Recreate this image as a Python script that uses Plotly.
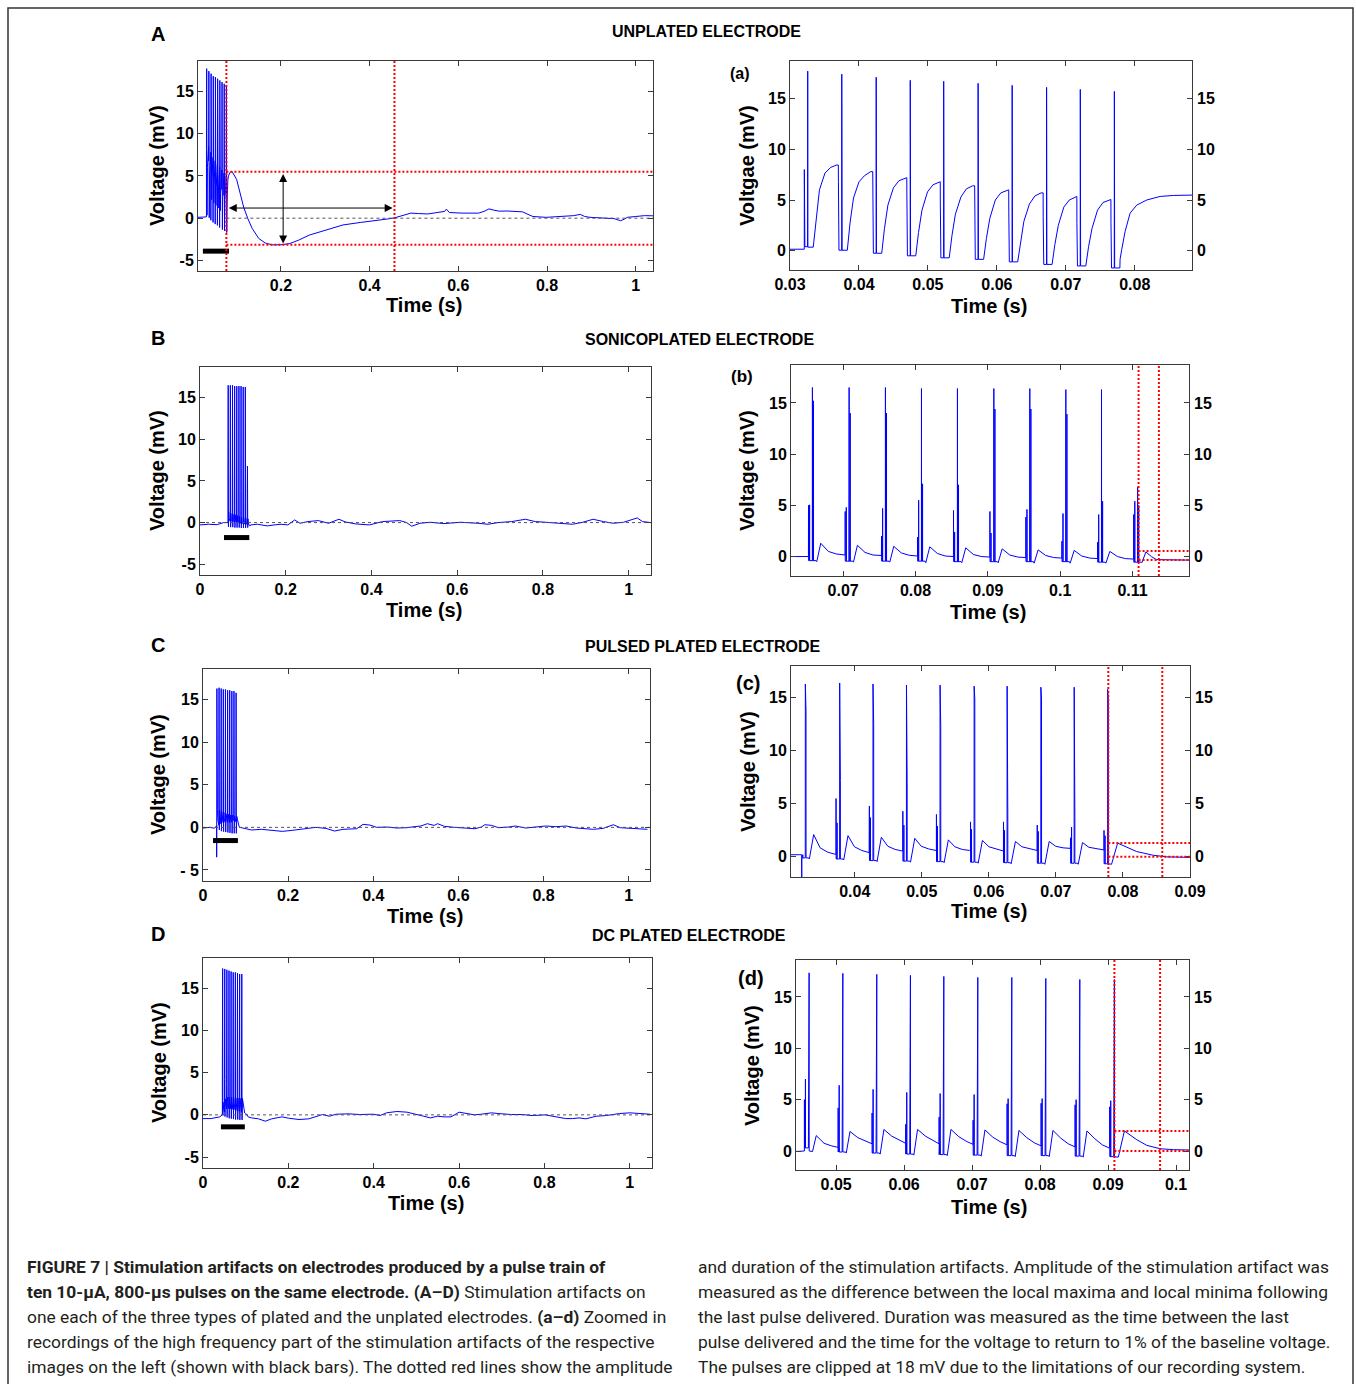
import plotly.graph_objects as go

W, H = 1356, 1384

# ================= DATA =================
# ---- Unplated electrode (A / a) ----
un_pre_t = [0.013, 0.022, 0.029, 0.0318]
un_pre_v = [0.1, 0.12, 0.15, 0.15]
un_T = [0.03257, 0.03751, 0.0425, 0.04744, 0.05229, 0.05728, 0.06222, 0.06721, 0.0721, 0.07704]
un_peak = [17.7, 17.4, 17.1, 16.8, 16.7, 16.5, 16.3, 16.1, 15.9, 15.7]
un_inner = [13.6, 12.6, 12.1, 11.6, 11.3, 11.1, 10.8, 10.6, 10.4, 10.1]
un_pre1 = [8.0, 6.8, 6.1, 5.5, 4.7, 4.9, 3.9, 3.4, 2.7, 2.8]
un_pre2 = [7.5, 5.6, 4.7, 4.2, 3.8, 3.4, 3.0, 2.6, 2.2, 2.0]
un_base = [0.4, 0.05, -0.25, -0.5, -0.7, -0.85, -1.1, -1.35, -1.5, -1.7]
un_trough = [0.35, 0.05, -0.25, -0.5, -0.7, -0.85, -1.1, -1.35, -1.5, -1.7]
un_r1 = [3.1, 2.75, 2.2, 1.8, 1.5, 1.2, 0.9, 0.6, 0.4]
un_r2 = [6.0, 5.2, 4.5, 4.0, 3.6, 3.2, 2.9, 2.5, 2.2]
un_r3 = [7.65, 6.8, 6.2, 5.8, 5.3, 5.0, 4.6, 4.3, 4.0]
un_r4 = [8.2, 7.4, 6.9, 6.5, 6.1, 5.7, 5.4, 5.0, 4.75]
un_plat = [8.45, 7.8, 7.2, 6.8, 6.4, 6.0, 5.7, 5.35, 5.05]
un_tail_t = [0.07787, 0.07811, 0.0786, 0.07932, 0.08029, 0.08174, 0.08368, 0.08562, 0.08829]
un_tail_v = [-0.85, 0.13, 1.9, 3.7, 4.5, 5.0, 5.35, 5.45, 5.5]
un_slow_t = [0.09, 0.1, 0.108, 0.116, 0.125, 0.135, 0.15, 0.165, 0.18, 0.2, 0.22, 0.24, 0.264, 0.3, 0.34,
             0.38, 0.417, 0.44, 0.457, 0.47, 0.493, 0.51, 0.531, 0.55, 0.569, 0.573, 0.58, 0.608, 0.63, 0.646,
             0.66, 0.669, 0.68, 0.692, 0.71, 0.722, 0.745, 0.755, 0.768, 0.798, 0.82, 0.836, 0.86, 0.875, 0.885,
             0.897, 0.93, 0.951, 0.96, 0.966, 0.975, 0.981, 1.0, 1.02, 1.039]
un_slow_v = [5.5, 4.6, 3.0, 1.3, 0.0, -1.2, -2.4, -2.95, -3.15, -3.15, -3.0, -2.6, -2.0, -1.4, -0.8,
             -0.5, -0.3, -0.1, 0.05, 0.25, 0.6, 0.55, 0.5, 0.65, 0.8, 1.07, 0.67, 0.6, 0.6, 0.6,
             0.85, 1.1, 0.95, 0.83, 0.85, 0.8, 0.75, 0.5, 0.2, 0.1, 0.15, 0.2, 0.3, 0.45, 0.2,
             0.1, 0.05, -0.05, -0.2, -0.3, -0.1, 0.1, 0.2, 0.3, 0.28]
un_red_t = [0.0770, 0.456]
un_red_v = [5.5, -3.15]
un_bar_t = [0.024, 0.083]
un_bar_v = -3.9
un_arrow_h_t = [0.079, 0.452]
un_arrow_h_v = 1.2
un_arrow_v_t = 0.205
un_arrow_v_v = [5.4, -3.0]

# ---- Sonicoplated electrode (B / b) ----
son_pre_t = [0.0, 0.02, 0.04, 0.055, 0.0628, 0.0650]
son_pre_v = [-0.28, -0.2, -0.25, 0.0, 0.0, 0.0]
son_T = [0.06576, 0.07083, 0.07585, 0.08083, 0.0858, 0.09083, 0.0958, 0.10078, 0.10571, 0.1107]
son_peak = [16.5, 16.5, 16.5, 16.4, 16.4, 16.4, 16.4, 16.3, 16.3, 6.8]
son_inner = [15.2, 14.0, 14.0, 7.1, 7.0, 14.4, 14.4, 13.9, 5.4, 5.0]
son_pre1 = [5.0, 4.4, 2.0, 1.9, 4.5, 4.4, 3.85, 1.5, 1.4, 4.1]
son_pre2 = [5.05, 4.8, 4.7, 5.5, 2.4, 2.3, 4.6, 4.2, 4.1, 5.4]
son_trough = [-0.4, -0.45, -0.45, -0.45, -0.5, -0.5, -0.5, -0.5, -0.55, -0.55]
son_dip = [-0.5, -0.55, -0.55, -0.6, -0.6, -0.6, -0.65, -0.65, -0.65]
son_bump = [1.3, 1.1, 1.0, 0.95, 0.85, 0.75, 0.65, 0.6, 0.5]
son_d1 = [0.5, 0.4, 0.35, 0.3, 0.2, 0.15, 0.1, 0.05, 0.0]
son_d2 = [0.25, 0.15, 0.12, 0.05, 0.0, -0.05, -0.1, -0.15, -0.2]
son_end = [0.15, 0.1, 0.05, 0.0, -0.05, -0.1, -0.15, -0.2, -0.25]
son_tail_t = [0.1113, 0.11184, 0.1126, 0.1133, 0.1145, 0.1178]
son_tail_v = [-0.6, 0.45, 0.0, -0.3, -0.33, -0.35]
son_slow_t = [0.118, 0.134, 0.157, 0.173, 0.189, 0.205, 0.221, 0.233, 0.252, 0.276,
              0.3, 0.324, 0.339, 0.363, 0.395, 0.426, 0.466, 0.482, 0.494, 0.513,
              0.537, 0.569, 0.608, 0.648, 0.672, 0.695, 0.727, 0.759, 0.782, 0.806,
              0.846, 0.869, 0.893, 0.917, 0.941, 0.964, 0.988, 1.02, 1.032, 1.051]
son_slow_v = [-0.28, -0.2, -0.4, -0.28, -0.2, -0.28, 0.32, -0.08, 0.12, 0.24,
              -0.08, 0.4, 0.08, -0.16, -0.28, 0.12, 0.24, 0.0, -0.44, -0.08,
              0.04, -0.12, 0.04, -0.08, -0.2, 0.0, 0.12, 0.4, 0.12, 0.04,
              -0.08, -0.2, 0.04, 0.4, 0.12, -0.08, 0.04, 0.56, 0.12, 0.0]
son_red_t = [0.11083, 0.11364]
son_red_v = [0.55, -0.33]
son_bar_t = [0.056, 0.115]
son_bar_v = -1.8

# ---- Pulsed plated electrode (C / c) ----
pul_pre_t = [0.0, 0.015, 0.027, 0.0305, 0.0318]
pul_pre_v = [-0.08, 0.0, -0.1, 0.2, 0.2]
pul_T = [0.03264, 0.03776, 0.04273, 0.04772, 0.05273, 0.05781, 0.06273, 0.06776, 0.07273, 0.07772]
pul_peak = [16.3, 16.4, 16.3, 16.2, 16.2, 16.1, 16.1, 16.0, 16.0, 15.8]
pul_inner = [13.7, 7.2, 12.5, 7.0, 12.2, 14.9, 4.1, 14.9, 3.8, 14.8]
pul_pre1 = [-3.5, 5.5, 4.8, 4.3, 4.0, 3.3, 3.3, 3.0, 1.8, 2.5]
pul_pre2 = [0.2, 3.2, 3.7, 3.0, 2.9, 2.6, 2.5, 2.4, 2.8, 2.0]
pul_trough = [-0.1, -0.2, -0.35, -0.4, -0.45, -0.5, -0.55, -0.6, -0.6, -0.65]
pul_dip = [-0.2, -0.3, -0.45, -0.5, -0.55, -0.6, -0.65, -0.7, -0.7]
pul_bump = [2.1, 2.0, 1.85, 1.75, 1.6, 1.55, 1.45, 1.45, 1.35]
pul_d1 = [0.85, 0.95, 1.0, 1.0, 0.95, 0.95, 0.95, 1.0, 0.9]
pul_d2 = [0.45, 0.6, 0.7, 0.75, 0.7, 0.75, 0.8, 0.85, 0.75]
pul_end = [0.25, 0.4, 0.55, 0.6, 0.6, 0.55, 0.6, 0.8, 0.65]
pul_tail_t = [0.0783, 0.07921, 0.0805, 0.08204, 0.08452, 0.08652, 0.09]
pul_tail_v = [-0.7, 1.3, 0.9, 0.5, 0.15, 0.0, -0.05]
pul_slow_t = [0.0985, 0.114, 0.138, 0.17, 0.186, 0.21, 0.234, 0.249, 0.265, 0.289,
              0.309, 0.329, 0.361, 0.376, 0.392, 0.408, 0.432, 0.456, 0.48, 0.496,
              0.512, 0.527, 0.543, 0.551, 0.567, 0.591, 0.615, 0.639, 0.654, 0.662,
              0.678, 0.694, 0.718, 0.734, 0.758, 0.782, 0.805, 0.829, 0.853, 0.877,
              0.901, 0.917, 0.94, 0.964, 0.98, 1.004, 1.028, 1.044]
pul_slow_v = [-0.12, -0.31, -0.23, -0.43, -0.47, -0.35, -0.16, -0.08, 0.0, -0.12,
              -0.43, -0.23, -0.16, 0.35, 0.27, 0.0, 0.04, -0.08, -0.04, 0.08,
              0.16, 0.43, 0.23, 0.43, 0.12, 0.0, -0.08, -0.16, 0.04, 0.31,
              0.23, -0.04, 0.04, 0.16, -0.08, 0.08, 0.16, 0.08, 0.16, -0.08,
              -0.16, -0.23, -0.12, 0.31, -0.04, -0.08, -0.12, -0.23]
pul_red_t = [0.07782, 0.08587]
pul_red_v = [1.3, 0.0]
pul_bar_t = [0.0235, 0.082]
pul_bar_v = -1.55

# ---- DC plated electrode (D / d) ----
dc_pre_t = [0.0, 0.019, 0.039, 0.0441, 0.0452]
dc_pre_v = [-0.44, -0.44, -0.24, 0.0, 0.0]
dc_T = [0.04603, 0.05099, 0.05598, 0.06093, 0.06584, 0.07084, 0.07584, 0.08084, 0.08584, 0.09093]
dc_peak = [17.35, 17.3, 17.2, 17.1, 17.0, 16.9, 16.9, 16.8, 16.7, 16.7]
dc_inner = [16.6, 16.6, 16.5, 16.5, 10.7, 10.6, 10.5, 10.4, 10.3, 10.2]
dc_pre1 = [5.0, 4.2, 3.7, 2.6, 3.3, 3.0, 4.6, 4.65, 4.5, 4.3]
dc_pre2 = [7.0, 6.4, 6.0, 5.7, 5.6, 5.5, 5.1, 5.1, 5.0, 4.9]
dc_base = [0.3, -0.1, -0.2, -0.3, -0.35, -0.4, -0.45, -0.45, -0.5, -0.55]
dc_trough = [0.0, -0.1, -0.2, -0.3, -0.35, -0.4, -0.45, -0.45, -0.5, -0.55]
dc_dip = [-0.05, -0.2, -0.3, -0.4, -0.45, -0.5, -0.55, -0.55, -0.6]
dc_bump = [1.5, 1.9, 2.1, 2.1, 2.1, 2.05, 2.0, 2.0, 1.95]
dc_d1 = [0.75, 1.3, 1.45, 1.45, 1.4, 1.35, 1.3, 1.25, 1.2]
dc_d2 = [0.5, 0.95, 1.05, 1.0, 0.95, 0.9, 0.8, 0.7, 0.6]
dc_end = [0.35, 0.7, 0.75, 0.7, 0.65, 0.6, 0.5, 0.4, 0.3]
dc_tail_t = [0.0915, 0.0924, 0.09422, 0.09569, 0.09765, 0.0996, 0.102]
dc_tail_v = [-0.6, 1.95, 1.1, 0.55, 0.22, 0.13, 0.1]
dc_slow_t = [0.106, 0.114, 0.13, 0.146, 0.161, 0.185, 0.201, 0.225, 0.248, 0.264,
             0.28, 0.296, 0.312, 0.343, 0.367, 0.399, 0.415, 0.43, 0.454, 0.478,
             0.494, 0.517, 0.533, 0.549, 0.565, 0.581, 0.6, 0.62, 0.636, 0.652,
             0.676, 0.691, 0.723, 0.747, 0.771, 0.802, 0.826, 0.85, 0.866, 0.881,
             0.897, 0.921, 0.945, 0.976, 1.0, 1.024, 1.047]
dc_slow_v = [-0.25, -0.36, -0.47, -0.75, -0.47, -0.24, -0.4, -0.55, -0.47, -0.24,
             0.04, -0.16, 0.08, 0.12, 0.04, 0.08, -0.08, 0.24, 0.4, 0.32,
             0.16, -0.16, -0.36, -0.16, -0.24, -0.24, 0.32, 0.16, 0.0, 0.08,
             0.24, 0.16, 0.04, 0.04, -0.08, 0.0, -0.24, -0.44, -0.44, -0.36,
             -0.47, -0.16, -0.08, 0.16, 0.24, 0.16, 0.08]
dc_red_t = [0.09093, 0.09765]
dc_red_v = [1.95, 0.0]
dc_bar_t = [0.042, 0.098]
dc_bar_v = -1.42

# Tick labels
left_x_ticks_A = [0.2, 0.4, 0.6, 0.8, 1]
left_x_ticks = [0, 0.2, 0.4, 0.6, 0.8, 1]
left_y_ticks = [-5, 0, 5, 10, 15]
right_y_ticks = [0, 5, 10, 15]
a_x_ticks = [0.03, 0.04, 0.05, 0.06, 0.07, 0.08]
b_x_ticks = [0.07, 0.08, 0.09, 0.1, 0.11]
c_x_ticks = [0.04, 0.05, 0.06, 0.07, 0.08, 0.09]
d_x_ticks = [0.05, 0.06, 0.07, 0.08, 0.09, 0.1]

EPS = 1e-5


def build(pre_t, pre_v, T, p1, p2, di, pre1, pre2, base, peak, inner, trough,
          rec_off, rec_vals, tail_t, tail_v, slow_t, slow_v):
    pts = list(zip(pre_t, pre_v))
    prev = pre_v[-1]
    n = len(T)
    for i in range(n):
        Ti = T[i]
        inner_nb = trough[i] if di > 0 else base[i]
        cyc = [(Ti - p1, prev), (Ti - p1 + EPS, pre1[i]), (Ti - p1 + 2 * EPS, base[i]),
               (Ti - p2, base[i]), (Ti - p2 + EPS, pre2[i]), (Ti - p2 + 2 * EPS, base[i]),
               (Ti - EPS, base[i]), (Ti, peak[i]), (Ti + EPS, trough[i]),
               (Ti + di - EPS / 2, inner_nb), (Ti + di, inner[i]), (Ti + di + EPS / 2, inner_nb)]
        pts += cyc
        if i < n - 1:
            for off, vals in zip(rec_off, rec_vals):
                pts.append((Ti + off, vals[i]))
            prev = rec_vals[-1][i]
        else:
            pts.append((Ti + rec_off[0], trough[i]))
            pts += list(zip(tail_t, tail_v))
    pts += list(zip(slow_t, slow_v))
    pts.sort(key=lambda p: p[0])
    return [p[0] for p in pts], [p[1] for p in pts]


un_t, un_v = build(un_pre_t, un_pre_v, un_T, 0.0005, 0.00043, 0.00004, un_pre1, un_pre2, un_base,
                   un_peak, un_inner, un_trough,
                   [0.0008, 0.0012, 0.0017, 0.0025, 0.0033, 0.0042],
                   [un_trough, un_r1, un_r2, un_r3, un_r4, un_plat],
                   un_tail_t, un_tail_v, un_slow_t, un_slow_v)
son_t, son_v = build(son_pre_t, son_pre_v, son_T, 0.00055, 0.0004, 0.00015, son_pre1, son_pre2,
                     son_trough, son_peak, son_inner, son_trough,
                     [0.0005, 0.0006, 0.00115, 0.0022, 0.0033, 0.0044],
                     [son_trough, son_dip, son_bump, son_d1, son_d2, son_end],
                     son_tail_t, son_tail_v, son_slow_t, son_slow_v)
pul_t, pul_v = build(pul_pre_t, pul_pre_v, pul_T, 0.00055, 0.0004, 0.0001, pul_pre1, pul_pre2,
                     pul_trough, pul_peak, pul_inner, pul_trough,
                     [0.0005, 0.0006, 0.00124, 0.0022, 0.0033, 0.0044],
                     [pul_trough, pul_dip, pul_bump, pul_d1, pul_d2, pul_end],
                     pul_tail_t, pul_tail_v, pul_slow_t, pul_slow_v)
dc_t, dc_v = build(dc_pre_t, dc_pre_v, dc_T, 0.0007, 0.00055, -0.0001, dc_pre1, dc_pre2,
                   dc_base, dc_peak, dc_inner, dc_trough,
                   [0.0004, 0.0005, 0.00105, 0.0022, 0.0033, 0.0043],
                   [dc_trough, dc_dip, dc_bump, dc_d1, dc_d2, dc_end],
                   dc_tail_t, dc_tail_v, dc_slow_t, dc_slow_v)

# ================= LAYOUT =================
FONT = "Liberation Sans, Arial, sans-serif"
AXC = "#3a3a3a"
BLUE = "#0000ff"


def fx(p):
    return p / W


def fy(p):
    return 1 - p / H


def fmt(v):
    return "%g" % v


# panel: key, box(l,t,r,b) px, xrange, yrange, xticks, yticks, ytext, right-labels
panels = [
    ("A", (198, 61, 653, 271), [0.013, 1.039], [-6.25, 18.6], left_x_ticks_A, left_y_ticks, None, False),
    ("a", (790, 61, 1192, 270), [0.03, 0.0883], [-1.9, 18.7], a_x_ticks, right_y_ticks, None, True),
    ("B", (200, 367, 651, 575), [0.0, 1.052], [-6.3, 18.7], left_x_ticks, left_y_ticks, None, False),
    ("b", (791, 365, 1189, 576), [0.0628, 0.1178], [-1.9, 18.7], b_x_ticks, right_y_ticks, None, True),
    ("C", (203, 669, 650, 881), [0.0, 1.05], [-6.3, 18.6], left_x_ticks, left_y_ticks,
     ["- 5", "0", "5", "10", "15"], False),
    ("c", (791, 666, 1190, 877), [0.0305, 0.09], [-1.9, 18.0], c_x_ticks, right_y_ticks, None, True),
    ("D", (203, 958, 652, 1168), [0.0, 1.052], [-6.3, 18.6], left_x_ticks, left_y_ticks, None, False),
    ("d", (796, 960, 1189, 1170), [0.0441, 0.1019], [-1.85, 18.6], d_x_ticks, right_y_ticks, None, True),
]

tickfont = dict(family=FONT, size=16, color="black", weight="bold")
layout = dict(template="none", width=W, height=H, autosize=False, margin=dict(l=0, r=0, t=0, b=0, pad=0),
              paper_bgcolor="white", plot_bgcolor="white", showlegend=False)

fig = go.Figure()
data_by_panel = {"A": (un_t, un_v), "a": (un_t, un_v), "B": (son_t, son_v), "b": (son_t, son_v),
                 "C": (pul_t, pul_v), "c": (pul_t, pul_v), "D": (dc_t, dc_v), "d": (dc_t, dc_v)}
axis_ids = {}
shapes = []
annotations = []
extra_y = 9
for k, (key, box, xr, yr, xt, yt, ytxt, right) in enumerate(panels, start=1):
    l, t, r, b = box
    xa = "xaxis" if k == 1 else "xaxis%d" % k
    ya = "yaxis" if k == 1 else "yaxis%d" % k
    xs = "x" if k == 1 else "x%d" % k
    ys = "y" if k == 1 else "y%d" % k
    axis_ids[key] = (xs, ys)
    common = dict(showline=True, linecolor=AXC, linewidth=1, mirror="ticks", ticks="inside",
                  ticklen=5, tickcolor=AXC, tickwidth=1, showgrid=False, zeroline=False,
                  tickfont=tickfont, fixedrange=True, automargin=False)
    layout[xa] = dict(domain=[fx(l), fx(r)], range=xr, anchor=ys, tickvals=xt,
                      ticktext=[fmt(v) for v in xt], ticklabelstandoff=0, **common)
    layout[ya] = dict(domain=[fy(b), fy(t)], range=yr, anchor=xs, tickvals=yt,
                      ticktext=ytxt if ytxt else [fmt(v) for v in yt], ticklabelstandoff=0, **common)
    if right:
        yo = "yaxis%d" % extra_y
        yos = "y%d" % extra_y
        layout[yo] = dict(overlaying=ys, side="right", anchor=xs, range=yr, tickvals=yt,
                          ticktext=[fmt(v) for v in yt], showline=False, ticks="", showgrid=False,
                          zeroline=False, tickfont=tickfont, ticklabelstandoff=4, fixedrange=True,
                          automargin=False)
        fig.add_trace(go.Scatter(x=[xr[0]], y=[yr[0]], xaxis=xs, yaxis=yos, mode="markers",
                                 marker=dict(size=1, opacity=0), hoverinfo="skip"))
        extra_y += 1
    tt, vv = data_by_panel[key]
    fig.add_trace(go.Scatter(x=tt, y=vv, xaxis=xs, yaxis=ys, mode="lines",
                             line=dict(color=BLUE, width=1), hoverinfo="skip"))

# --- zero dashed lines, bars on left panels ---
zero_specs = [("A", un_red_t[0]), ("B", None), ("C", None), ("D", None)]
for key, x0 in zero_specs:
    xs, ys = axis_ids[key]
    xr = [p for p in panels if p[0] == key][0][2]
    fig.add_trace(go.Scatter(x=[x0 if x0 is not None else xr[0], xr[1]], y=[0, 0], xaxis=xs, yaxis=ys,
                             mode="lines", line=dict(color="#555555", width=1, dash="3px,3px"),
                             hoverinfo="skip"))
for key, bt, bv in [("A", un_bar_t, un_bar_v), ("B", son_bar_t, son_bar_v),
                    ("C", pul_bar_t, pul_bar_v), ("D", dc_bar_t, dc_bar_v)]:
    xs, ys = axis_ids[key]
    fig.add_trace(go.Scatter(x=bt, y=[bv, bv], xaxis=xs, yaxis=ys, mode="lines",
                             line=dict(color="black", width=5), hoverinfo="skip"))

# --- red dotted measurement lines ---
RED = dict(color="#ff0000", width=2, dash="2px,2px")
for key, rt, rv in [("A", un_red_t, un_red_v), ("b", son_red_t, son_red_v),
                    ("c", pul_red_t, pul_red_v), ("d", dc_red_t, dc_red_v)]:
    xs, ys = axis_ids[key]
    xr = [p for p in panels if p[0] == key][0][2]
    for x in rt:
        shapes.append(dict(type="line", xref=xs, yref=ys + " domain", x0=x, x1=x, y0=0, y1=1, line=RED))
    for y in rv:
        shapes.append(dict(type="line", xref=xs, yref=ys, x0=rt[0], x1=xr[1], y0=y, y1=y, line=RED))

# --- arrows in A ---
xs, ys = axis_ids["A"]
annotations.append(dict(x=un_arrow_h_t[1], y=un_arrow_h_v, ax=un_arrow_h_t[0], ay=un_arrow_h_v,
                        xref=xs, yref=ys, axref=xs, ayref=ys, text="", showarrow=True,
                        arrowhead=2, startarrowhead=2, arrowside="end+start", arrowsize=1.6,
                        startarrowsize=1.6, arrowwidth=1, arrowcolor="black"))
annotations.append(dict(x=un_arrow_v_t, y=un_arrow_v_v[1], ax=un_arrow_v_t, ay=un_arrow_v_v[0],
                        xref=xs, yref=ys, axref=xs, ayref=ys, text="", showarrow=True,
                        arrowhead=2, startarrowhead=2, arrowside="end+start", arrowsize=1.6,
                        startarrowsize=1.6, arrowwidth=1, arrowcolor="black"))


def txt(x, y, s, size, bold=True, angle=0, xanchor="center", color="black", family=FONT):
    annotations.append(dict(x=fx(x), y=fy(y), xref="paper", yref="paper", text=s, showarrow=False,
                            textangle=angle, xanchor=xanchor, yanchor="middle",
                            font=dict(family=family, size=size, color=color,
                                      weight="bold" if bold else "normal")))


# panel letters and titles
for letter, (x, y) in zip(["A", "B", "C", "D"], [(158, 34), (158, 338), (158, 645), (158, 934)]):
    txt(x, y, letter, 20)
titles = ["UNPLATED ELECTRODE", "SONICOPLATED ELECTRODE", "PULSED PLATED ELECTRODE", "DC PLATED ELECTRODE"]
for s, (x, y) in zip(titles, [(706, 31), (699, 339), (703, 646), (689, 935)]):
    txt(x, y, s, 16)

# y axis titles
for s, (x, y) in [("Voltage (mV)", (157, 166)), ("Voltage (mV)", (157, 471)),
                  ("Voltage (mV)", (158, 775)), ("Voltage (mV)", (159, 1063)),
                  ("Voltgae (mV)", (747, 166)), ("Voltage (mV)", (747, 471)),
                  ("Voltage (mV)", (748, 772)), ("Voltage (mV)", (752, 1066))]:
    txt(x, y, s, 20, angle=-90)
# x axis titles
for (x, y) in [(424, 305), (989, 306), (424, 610), (988, 612), (425, 916), (989, 911),
               (426, 1203), (989, 1207)]:
    txt(x, y, "Time (s)", 20)
# sub-panel labels
for s, (x, y), sz in [("(a)", (740, 74), 16), ("(b)", (742, 376), 17), ("(c)", (748, 683), 20),
                      ("(d)", (751, 978), 20)]:
    txt(x, y, s, sz)

# caption
CAP = "Roboto, Liberation Sans, sans-serif"
left_lines = [
    "<b>FIGURE 7 | Stimulation artifacts on electrodes produced by a pulse train of</b>",
    "<b>ten 10-µA, 800-µs pulses on the same electrode. (A–D)</b> Stimulation artifacts on",
    "one each of the three types of plated and the unplated electrodes. <b>(a–d)</b> Zoomed in",
    "recordings of the high frequency part of the stimulation artifacts of the respective",
    "images on the left (shown with black bars). The dotted red lines show the amplitude",
]
right_lines = [
    "and duration of the stimulation artifacts. Amplitude of the stimulation artifact was",
    "measured as the difference between the local maxima and local minima following",
    "the last pulse delivered. Duration was measured as the time between the last",
    "pulse delivered and the time for the voltage to return to 1% of the baseline voltage.",
    "The pulses are clipped at 18 mV due to the limitations of our recording system.",
]
for i, s in enumerate(left_lines):
    txt(25, 1267 + 25 * i, s, 17.4, bold=False, xanchor="left", color="#231f20", family=CAP)
for i, s in enumerate(right_lines):
    txt(696, 1267 + 25 * i, s, 17.4, bold=False, xanchor="left", color="#231f20", family=CAP)

# outer frame
shapes.append(dict(type="rect", xref="paper", yref="paper", x0=fx(8), x1=fx(1353), y0=fy(1400), y1=fy(8),
                   line=dict(color="#333333", width=1.5), fillcolor="rgba(0,0,0,0)", layer="below"))

layout["shapes"] = shapes
layout["annotations"] = annotations
fig.update_layout(**layout)

fig.write_html("out.html", include_plotlyjs=True, full_html=True,
               config={"staticPlot": True},
               post_script="document.body.style.margin='0';document.body.style.overflow='hidden';")
